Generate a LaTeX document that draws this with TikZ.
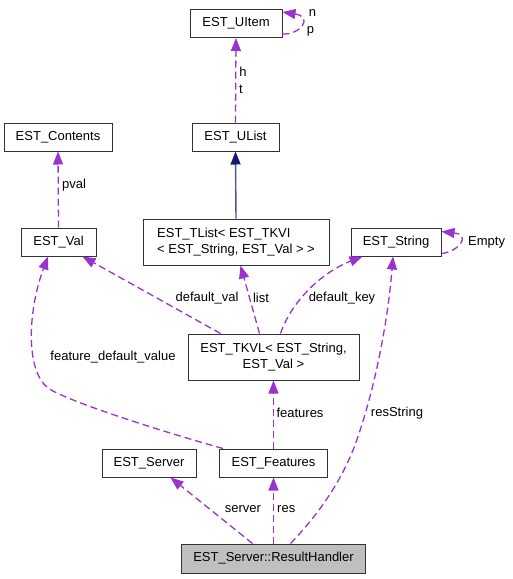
\documentclass[tikz,border=0pt]{standalone}
\usepackage{fontspec}
\setmainfont{Liberation Sans}
\usetikzlibrary{arrows.meta,calc}
\definecolor{dep}{HTML}{9A32CD}
\definecolor{inhline}{HTML}{50509A}
\definecolor{inhhead}{HTML}{191970}
\definecolor{rhfill}{HTML}{BFBFBF}
\begin{document}
\begin{tikzpicture}[x=1pt,y=-1pt]
\tikzset{
  cls/.style={draw=black!80, line width=1pt, inner sep=2pt, fill=white,
    font=\fontsize{13}{15.5}\selectfont, minimum height=28pt},
  lbl/.style={font=\fontsize{13}{15.5}\selectfont, inner sep=0pt},
  dep/.style={draw=dep, line width=1.3pt, dash pattern=on 7pt off 4pt,
    -{Triangle[length=13pt,width=10pt,fill=dep]}},
  inh/.style={draw=inhline, line width=1.4pt,
    -{Triangle[length=13pt,width=10pt,fill=inhhead,color=inhhead]}}
}
\useasboundingbox (0,0) rectangle (512,579);
% nodes
\node[cls, minimum width=92pt] (uitem) at (236,23.5) {EST\_UItem};
\node[cls, minimum width=87pt] (ulist) at (235.5,137) {EST\_UList};
\node[cls, minimum width=108pt] (contents) at (58,137) {EST\_Contents};
\node[cls, minimum width=75pt] (val) at (58.5,242) {EST\_Val};
\node[cls, minimum width=186pt, minimum height=46pt, align=left] (tlist) at (236,242) {EST\_TList< EST\_TKVI\\< EST\_String, EST\_Val > >};
\node[cls, minimum width=90pt] (string) at (396,242) {EST\_String};
\node[cls, minimum width=171pt, minimum height=46pt, align=center] (tkvl) at (273.5,357) {EST\_TKVL< EST\_String,\\EST\_Val >};
\node[cls, minimum width=94pt] (server) at (149,463) {EST\_Server};
\node[cls, minimum width=108pt] (feat) at (273.5,463) {EST\_Features};
\node[cls, minimum width=184pt, minimum height=29pt, fill=rhfill] (rh) at (273.5,558.5) {EST\_Server::ResultHandler};
% edges
\draw[dep] (ulist.north) -- (uitem.south);
\node[lbl] (lh) at (243,71.5) {h};
\node[lbl] (lt) at (241,89) {t};
\draw[dep] ($(uitem.south east)+(0,-4)$) .. controls (300,35) and (314,17) .. ($(uitem.north east)+(0,3)$);
\node[lbl] (ln) at (312.5,13) {n};
\node[lbl] (lp) at (310.5,31.5) {p};
\draw[inh] (tlist.north) -- (ulist.south);
\draw[dep] (val.north) -- (contents.south);
\node[lbl, anchor=west] (lpval) at (62,185) {pval};
\draw[dep] ($(tkvl.north west)+(33,0)$) -- ($(val.south east)+(-14,0)$);
\node[lbl] (ldv) at (207,298) {default\_val};
\draw[dep] ($(tkvl.north)+(-14,0)$) -- ($(tlist.south)+(4.5,0)$);
\node[lbl] (llist) at (261,298) {list};
\draw[dep] ($(tkvl.north)+(7,0)$) .. controls (290,305) and (318,274) .. ($(string.south west)+(12,0)$);
\node[lbl] (ldk) at (342,298) {default\_key};
\draw[dep] ($(feat.north west)+(4,0)$) .. controls (150,428) and (65,400) .. (48,388) .. controls (25,370) and (28,310) .. ($(val.south)+(-10.5,0)$);
\node[lbl] (lfdv) at (113,357) {feature\_default\_value};
\draw[dep] (feat.north) -- (tkvl.south);
\node[lbl] (lfeat) at (300,413) {features};
\draw[dep] ($(rh.north)+(-21,0)$) -- ($(server.south east)+(-26,0)$);
\node[lbl] (lserver) at (243,509) {server};
\draw[dep] (rh.north) -- (feat.south);
\node[lbl, anchor=west] (lres) at (277,509) {res};
\draw[dep] ($(rh.north)+(17,0)$) .. controls (315,518) and (340,485) .. (355,445) .. controls (375,390) and (388,320) .. ($(string.south)+(-3,0)$);
\node[lbl] (lrs) at (397,413) {resString};
\draw[dep] ($(string.south east)+(0,-3)$) .. controls (458,252) and (472,235) .. ($(string.north east)+(0,4)$);
\node[lbl, anchor=west] (lempty) at (468,242) {Empty};
\end{tikzpicture}
\end{document}
